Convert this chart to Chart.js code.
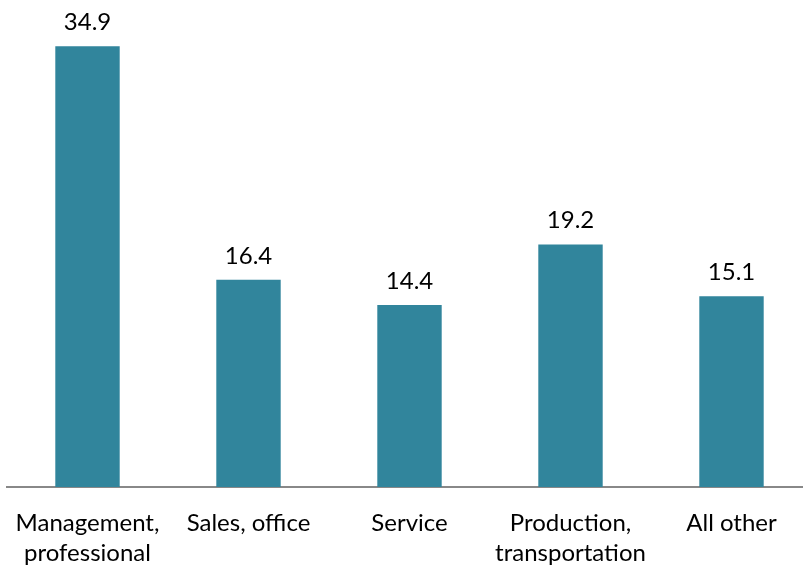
<!DOCTYPE html>
<html>
<head>
<meta charset="utf-8">
<script src="https://cdn.jsdelivr.net/npm/chart.js@4"></script>
<style>
  html, body { margin: 0; padding: 0; background: #fff; overflow: hidden; }
  #wrap { width: 812px; height: 568px; position: relative; }
</style>
</head>
<body>
<div id="wrap"><canvas id="chart"></canvas></div>
<script>
// chart values
const categories = [
    ['Management,', 'professional'],
    'Sales, office',
    'Service',
    ['Production,', 'transportation'],
    'All other'
];
const values = [34.9, 16.4, 14.4, 19.2, 15.1];

const FONT = 'Lato, "Open Sans", sans-serif';

// draws the value above each bar
const valueLabels = {
    id: 'valueLabels',
    afterDatasetsDraw(chart) {
        const ctx = chart.ctx;
        const meta = chart.getDatasetMeta(0);
        ctx.save();
        ctx.font = '24px ' + FONT;
        ctx.fillStyle = '#000';
        ctx.textAlign = 'center';
        ctx.textBaseline = 'bottom';
        meta.data.forEach((bar, i) => {
            ctx.fillText(values[i].toFixed(1), bar.x, bar.y - 12);
        });
        ctx.restore();
    }
};

const ctx = document.getElementById('chart');
new Chart(ctx, {
    type: 'bar',
    data: {
        labels: categories,
        datasets: [{
            data: values,
            backgroundColor: '#31859C',
            barPercentage: 0.4,
            categoryPercentage: 1.0
        }]
    },
    options: {
        responsive: true,
        maintainAspectRatio: false,
        animation: false,
        layout: { padding: { top: 7, left: 7, right: 0, bottom: 0 } },
        plugins: {
            legend: { display: false },
            tooltip: { enabled: false }
        },
        scales: {
            x: {
                grid: { display: false, drawTicks: false },
                border: { color: '#888888', width: 2 },
                ticks: {
                    color: '#000',
                    padding: 21,
                    maxRotation: 0,
                    autoSkip: false,
                    font: { family: FONT, size: 24, lineHeight: 1.25 }
                },
                afterFit(scale) {
                    scale.height = 81;
                    // labels may overhang the edges like in the original
                    scale.paddingLeft = 0;
                    scale.paddingRight = 0;
                }
            },
            y: {
                display: false,
                min: 0,
                max: 38
            }
        }
    },
    plugins: [valueLabels]
});
</script>
</body>
</html>
